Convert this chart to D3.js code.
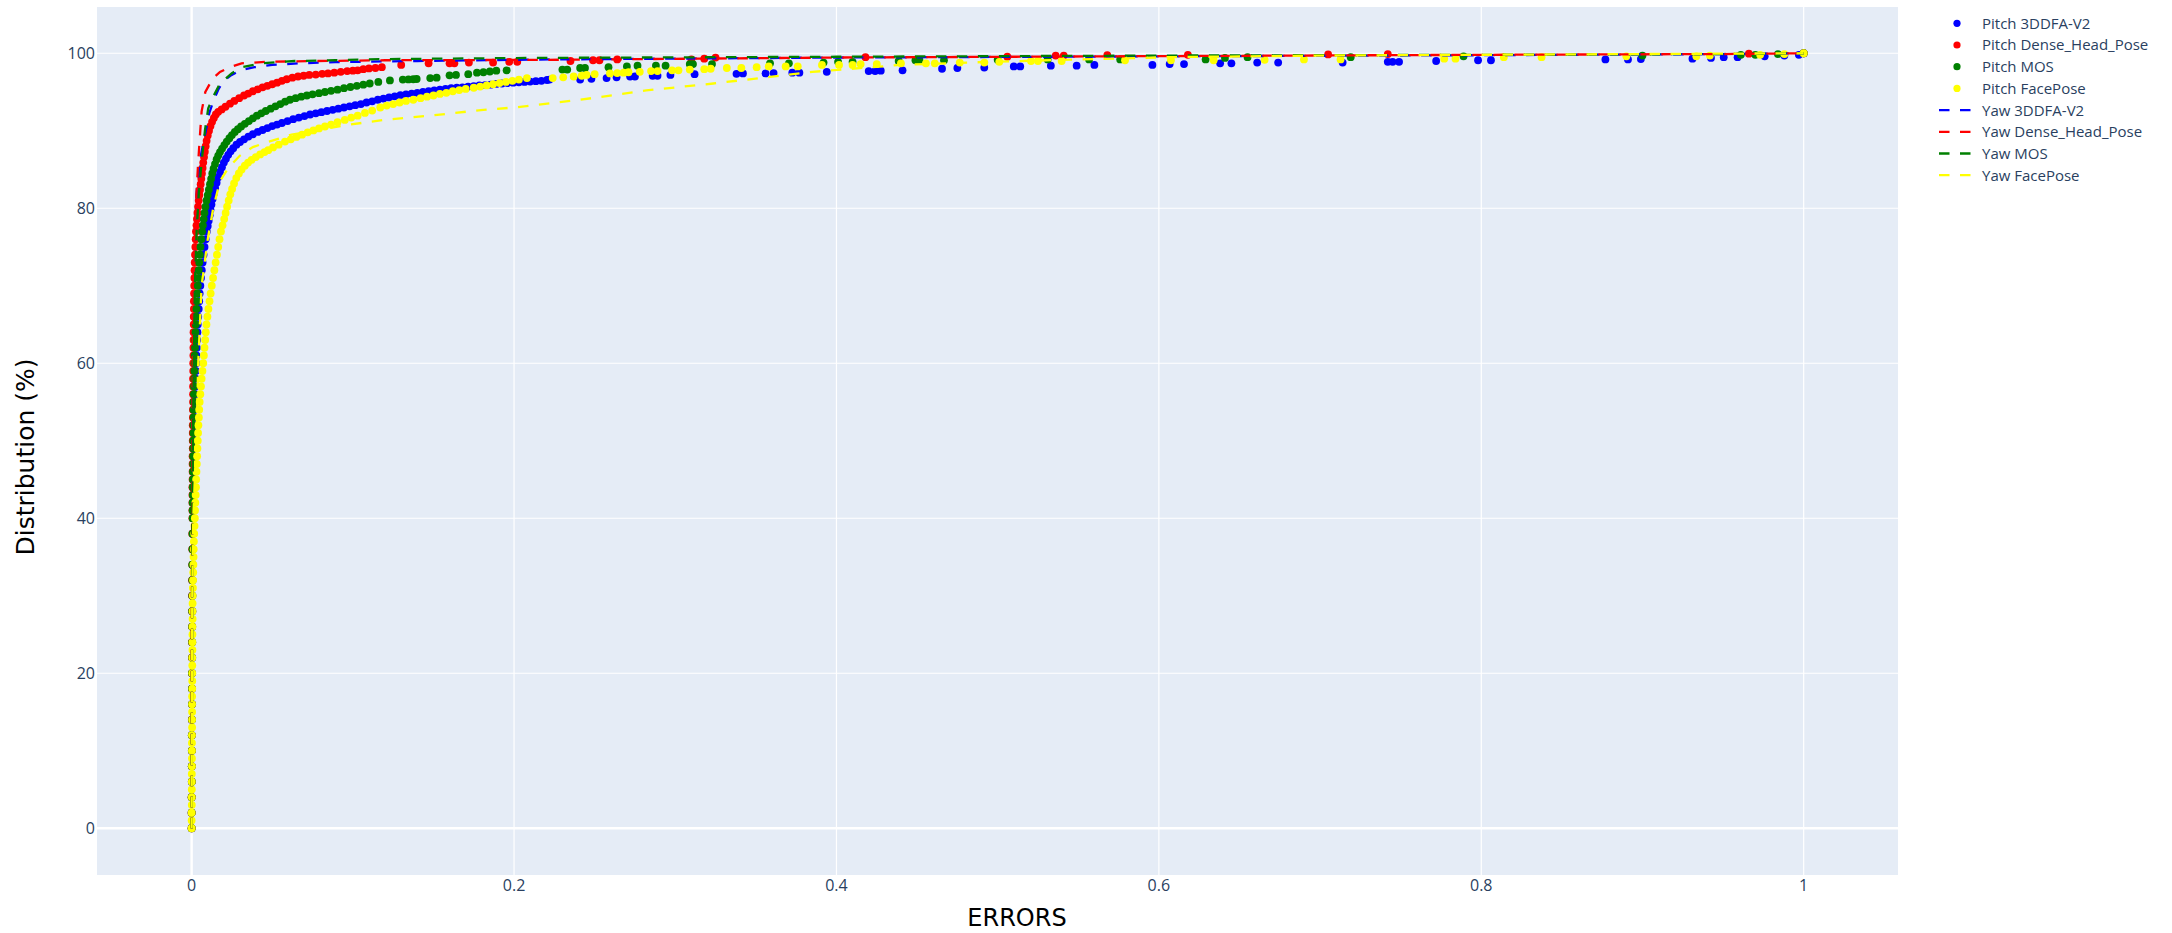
<!DOCTYPE html>
<html><head><meta charset="utf-8">
<script src="https://cdn.jsdelivr.net/npm/d3@7"></script>
<style>html,body{margin:0;padding:0;background:#fff}svg{display:block}</style>
</head><body>
<svg id="chart" width="2172" height="933"></svg>
<script>
// ---------------- DATA ----------------
const xTicks = [0, 0.2, 0.4, 0.6, 0.8, 1];
const xTickLabels = ["0", "0.2", "0.4", "0.6", "0.8", "1"];
const yTicks = [0, 20, 40, 60, 80, 100];
const yTickLabels = ["0", "20", "40", "60", "80", "100"];
const seriesNames = ["Pitch 3DDFA-V2","Pitch Dense_Head_Pose","Pitch MOS","Pitch FacePose","Yaw 3DDFA-V2","Yaw Dense_Head_Pose","Yaw MOS","Yaw FacePose"];

// [error, distribution %]
const pitch3DDFA = [[0,0],[0,2],[0.0001,4],[0.0001,6],[0.0001,8],[0.0002,10],[0.0002,12],[0.0002,14],[0.0003,16],[0.0003,18],[0.0003,20],[0.0004,22],[0.0004,24],[0.0004,26],[0.0005,28],[0.0005,30],[0.0006,32],[0.0006,34],[0.0007,36],[0.0008,38],[0.0009,40],[0.00095,41],[0.001,42],[0.00105,43],[0.0011,44],[0.00115,45],[0.0012,46],[0.00125,47],[0.0013,48],[0.0014,49],[0.0015,50],[0.0016,51],[0.0017,52],[0.0018,53],[0.0019,54],[0.002,55],[0.0022,56],[0.0023,57],[0.0025,58],[0.0026,59],[0.0028,60],[0.003,61],[0.0032,62],[0.0034,63],[0.0036,64],[0.0038,65],[0.0041,66],[0.0044,67],[0.0047,68],[0.005,69],[0.0054,70],[0.0058,71],[0.0063,72],[0.0068,73],[0.0074,74],[0.008,75],[0.0087,76],
[0.0094,77],[0.01,77.7],[0.0106,78.4],[0.0112,79.1],[0.0117,79.8],[0.0123,80.5],[0.013,81.2],[0.0138,81.9],[0.0146,82.6],[0.0155,83.3],[0.0165,84],[0.0176,84.7],[0.0188,85.3],[0.02,85.9],[0.0213,86.4],[0.0227,86.9],[0.0242,87.35],[0.0258,87.75],[0.0278,88.2],[0.03,88.55],[0.0325,88.9],[0.0352,89.25],[0.038,89.55],[0.041,89.85],[0.044,90.1],[0.047,90.35],[0.05,90.6],[0.053,90.8],[0.056,91],[0.0595,91.25],[0.063,91.5],[0.0665,91.7],[0.07,91.9],[0.0735,92.1],[0.077,92.25],[0.0805,92.4],[0.084,92.55],[0.0875,92.7],[0.091,92.85],[0.0945,93],[0.098,93.15],[0.1015,93.3],[0.105,93.45],[0.1085,93.65],[0.112,93.8],[0.1155,94],[0.119,94.15],[0.1225,94.3],[0.126,94.45],[0.1295,94.6],[0.133,94.7],[0.1365,94.8],[0.14,94.9],[0.1435,95],[0.147,95.1],[0.1505,95.2],[0.154,95.3],[0.1575,95.4],[0.161,95.5],[0.1645,95.55],[0.168,95.6],[0.1715,95.7],[0.175,95.75],[0.1785,95.85],[0.182,95.9],[0.1855,95.95],[0.189,96.05],[0.1925,96.1],[0.196,96.15],[0.1995,96.2],[0.203,96.25],[0.2065,96.3],[0.21,96.35],[0.2135,96.4],[0.217,96.45],[0.2205,96.55],[0.222,96.6],
[0.241,96.6],[0.248,96.7],[0.2574,96.8],[0.2636,96.9],[0.272,97],[0.275,97],[0.286,97.1],[0.289,97.1],[0.297,97.2],[0.312,97.3],[0.338,97.35],[0.342,97.4],[0.356,97.4],[0.361,97.45],[0.3726,97.5],[0.377,97.5],[0.394,97.6],[0.42,97.7],[0.424,97.7],[0.4275,97.75],[0.441,97.8],[0.4655,98],[0.475,98.1],[0.4917,98.15],[0.51,98.3],[0.514,98.3],[0.533,98.4],[0.549,98.4],[0.56,98.5],[0.596,98.5],[0.6067,98.6],[0.6156,98.6],[0.638,98.7],[0.645,98.7],[0.661,98.8],[0.674,98.8],[0.714,98.8],[0.742,98.9],[0.745,98.9],[0.749,98.9],[0.772,99],[0.798,99.1],[0.806,99.1],[0.877,99.2],[0.891,99.2],[0.899,99.25],[0.931,99.3],[0.9425,99.4],[0.9504,99.5],[0.959,99.5],[0.9758,99.6],[0.988,99.7],[0.997,99.8],[1,100]];

const pitchDense = [[0,0],[0,2],[0,4],[0.0001,6],[0.0001,8],[0.0001,10],[0.0001,12],[0.0001,14],[0.0002,16],[0.0002,18],[0.0002,20],[0.0002,22],[0.0002,24],[0.0003,26],[0.0003,28],[0.0003,30],[0.0003,32],[0.0004,34],[0.0004,36],[0.0004,38],[0.0005,40],[0.0005,41],[0.0005,42],[0.0005,43],[0.0005,44],[0.0006,45],[0.0006,46],[0.0006,47],[0.0006,48],[0.0007,49],[0.0007,50],[0.0007,51],[0.0007,52],[0.0008,53],[0.0008,54],[0.0009,55],[0.0009,56],[0.0009,57],[0.0009,58],[0.001,59],[0.001,60],[0.0011,61],[0.0011,62],[0.0012,63],[0.0012,64],[0.0013,65],[0.0013,66],[0.0014,67],[0.0014,68],[0.0015,69],[0.0016,70],[0.0017,71],[0.0018,72],[0.0019,73],[0.0021,74],[0.0023,75],[0.0025,76],
[0.0027,77],[0.003,77.8],[0.0033,78.6],[0.0036,79.4],[0.004,80.2],[0.0044,81],[0.0048,81.7],[0.0052,82.4],[0.0056,83.1],[0.006,83.8],[0.0064,84.5],[0.0068,85.2],[0.0072,85.9],[0.0077,86.6],[0.0082,87.3],[0.0087,88],[0.0093,88.7],[0.01,89.4],[0.0108,90],[0.0117,90.6],[0.0127,91.15],[0.0138,91.65],[0.015,92.1],[0.0165,92.45],[0.0186,92.75],[0.021,93.1],[0.0238,93.5],[0.0265,93.85],[0.0295,94.2],[0.0325,94.55],[0.0351,94.8],[0.038,95.1],[0.041,95.35],[0.044,95.6],[0.047,95.8],[0.05,96],[0.053,96.2],[0.056,96.45],[0.059,96.65],[0.0625,96.85],[0.066,97],[0.0695,97.1],[0.073,97.2],[0.077,97.25],[0.081,97.35],[0.0846,97.4],[0.0885,97.5],[0.0925,97.6],[0.0965,97.7],[0.1,97.75],[0.103,97.8],[0.1065,97.95],[0.11,98.05],[0.114,98.1],[0.118,98.2],
[0.13,98.5],[0.147,98.7],[0.16,98.7],[0.163,98.7],[0.172,98.8],[0.187,98.8],[0.197,98.9],[0.202,98.9],[0.235,99],[0.249,99.1],[0.253,99.1],[0.264,99.2],[0.31,99.2],[0.318,99.3],[0.325,99.45],[0.418,99.5],[0.506,99.55],[0.536,99.7],[0.541,99.7],[0.568,99.75],[0.618,99.8],[0.705,99.85],[0.742,99.9],[0.966,99.95],[1,100]];

const pitchMOS = [[0,0],[0,2],[0,4],[0.0001,6],[0.0001,8],[0.0001,10],[0.0001,12],[0.0002,14],[0.0002,16],[0.0002,18],[0.0002,20],[0.0003,22],[0.0003,24],[0.0003,26],[0.0003,28],[0.0004,30],[0.0004,32],[0.0004,34],[0.0005,36],[0.0005,38],[0.0006,40],[0.0006,41],[0.0006,42],[0.0007,43],[0.0007,44],[0.0008,45],[0.0008,46],[0.0009,47],[0.0009,48],[0.001,49],[0.001,50],[0.0011,51],[0.0011,52],[0.0012,53],[0.0012,54],[0.0013,55],[0.0014,56],[0.0015,57],[0.0016,58],[0.0017,59],[0.0018,60],[0.0019,61],[0.0021,62],[0.0022,63],[0.0024,64],[0.0026,65],[0.0028,66],[0.003,67],[0.0033,68],[0.0035,69],[0.0038,70],[0.0041,71],[0.0044,72],[0.0047,73],[0.0051,74],[0.0055,75],[0.006,76],
[0.0065,77],[0.007,77.8],[0.0075,78.6],[0.008,79.4],[0.0086,80.2],[0.0093,81],[0.01,81.7],[0.0107,82.4],[0.0114,83.1],[0.0121,83.8],[0.0128,84.5],[0.0136,85.1],[0.0145,85.7],[0.0155,86.3],[0.0165,86.8],[0.0176,87.25],[0.0189,87.7],[0.0203,88.15],[0.0218,88.6],[0.0234,89.05],[0.025,89.45],[0.0268,89.85],[0.0287,90.2],[0.0307,90.55],[0.033,90.9],[0.0355,91.25],[0.038,91.6],[0.0405,91.95],[0.0432,92.25],[0.046,92.55],[0.049,92.85],[0.052,93.15],[0.055,93.45],[0.058,93.75],[0.061,94],[0.0645,94.2],[0.068,94.4],[0.0715,94.55],[0.075,94.7],[0.079,94.85],[0.0827,95],[0.0865,95.15],[0.0905,95.3],[0.0945,95.5],[0.0985,95.65],[0.1025,95.8],[0.1065,95.95],[0.1105,96.1],[0.1158,96.3],
[0.123,96.5],[0.131,96.6],[0.1345,96.62],[0.1375,96.65],[0.1396,96.68],[0.148,96.8],[0.152,96.85],[0.16,97.15],[0.164,97.2],[0.1716,97.3],[0.177,97.5],[0.181,97.55],[0.185,97.65],[0.189,97.75],[0.1954,97.8],
[0.23,97.9],[0.233,97.9],[0.241,98.1],[0.244,98.1],[0.2586,98.2],[0.27,98.3],[0.2766,98.4],[0.288,98.4],[0.294,98.4],[0.309,98.6],[0.311,98.6],[0.3228,98.6],[0.3588,98.7],[0.3705,98.7],[0.392,98.8],[0.401,98.9],[0.41,98.9],[0.4386,99],[0.449,99.1],[0.4515,99.1],[0.4667,99.1],[0.5,99.15],[0.531,99.2],[0.5567,99.2],[0.576,99.2],[0.629,99.2],[0.641,99.4],[0.655,99.5],[0.719,99.5],[0.789,99.6],[0.9,99.7],[0.961,99.8],[0.97,99.8],[0.984,99.9],[1,100]];

const pitchFacePose = [[0,0],[0,1],[0,2],[0.0001,3],[0.0001,4],[0.0001,5],[0.0001,6],[0.0001,7],[0.0002,8],[0.0002,9],[0.0002,10],[0.0002,11],[0.0002,12],[0.0003,13],[0.0003,14],[0.0003,15],[0.0003,16],[0.0003,17],[0.0004,18],[0.0004,19],[0.0004,20],[0.0004,21],[0.0004,22],[0.0005,23],[0.0005,24],[0.0005,25],[0.0005,26],[0.0006,27],[0.0006,28],[0.0006,29],[0.0007,30],[0.0008,31],[0.0009,32],[0.001,33],[0.0011,34],[0.0012,35],[0.0013,36],[0.0014,37],[0.0016,38],[0.0018,39],[0.002,40],[0.0021,41],[0.0023,42],[0.0025,43],[0.0027,44],[0.0028,45],[0.003,46],[0.0032,47],[0.0034,48],[0.0036,49],[0.0038,50],[0.004,51],[0.0042,52],[0.0045,53],[0.0047,54],[0.005,55],[0.0054,56],[0.0058,57],[0.0062,58],[0.0067,59],[0.0072,60],[0.0076,61],[0.008,62],[0.0084,63],[0.0088,64],[0.0092,65],[0.0098,66],[0.0104,67],[0.0111,68],[0.0118,69],[0.0125,70],[0.0133,71],[0.0141,72],[0.0149,73],[0.0157,74],[0.0165,75],[0.0173,76],
[0.0182,77],[0.0192,77.8],[0.0202,78.6],[0.0211,79.4],[0.022,80.2],[0.023,81],[0.024,81.8],[0.0251,82.5],[0.0263,83.2],[0.0277,83.9],[0.0293,84.5],[0.031,85],[0.033,85.5],[0.035,85.9],[0.0372,86.25],[0.0398,86.6],[0.0425,86.95],[0.0452,87.25],[0.0475,87.5],[0.0505,87.85],[0.054,88.2],[0.0579,88.6],[0.0615,88.9],[0.065,89.2],[0.0685,89.5],[0.072,89.8],[0.0755,90.05],[0.079,90.3],[0.0827,90.55],[0.0865,90.8],[0.0905,91.1],[0.095,91.4],[0.099,91.7],[0.103,91.95],[0.1075,92.3],[0.112,92.6],[0.117,93],[0.121,93.25],[0.125,93.45],[0.129,93.65],[0.133,93.85],[0.1375,94],[0.142,94.2],[0.146,94.4],[0.15,94.55],[0.154,94.75],[0.158,94.9],[0.162,95.1],[0.166,95.25],[0.17,95.4],[0.175,95.55],[0.179,95.7],[0.183,95.85],[0.187,96],[0.191,96.15],[0.195,96.3],[0.199,96.45],[0.203,96.6],[0.208,96.8],
[0.224,96.8],[0.2305,96.9],[0.237,97],[0.242,97.1],[0.245,97.2],[0.25,97.3],[0.2595,97.4],[0.264,97.45],[0.268,97.5],[0.271,97.55],[0.278,97.6],[0.285,97.7],[0.289,97.7],[0.298,97.8],[0.302,97.8],[0.309,97.9],[0.318,97.95],[0.322,98],[0.332,98.1],[0.341,98.1],[0.3505,98.2],[0.358,98.3],[0.3685,98.3],[0.376,98.3],[0.391,98.5],[0.4016,98.5],[0.41,98.5],[0.415,98.6],[0.425,98.6],[0.44,98.7],[0.4555,98.7],[0.461,98.7],[0.4765,98.8],[0.4917,98.8],[0.501,98.9],[0.5207,99],[0.525,99],[0.5397,99],[0.579,99.1],[0.6075,99.1],[0.634,99.1],[0.6656,99.15],[0.69,99.2],[0.7127,99.2],[0.777,99.3],[0.784,99.3],[0.814,99.5],[0.8374,99.5],[0.89,99.6],[0.9334,99.6],[0.9418,99.7],[0.973,99.8],[0.988,99.9],[1,100]];

const yaw3DDFA = [[0,0],[0.0001,10],[0.0002,20],[0.0003,30],[0.0005,40],[0.0007,50],[0.001,60],[0.0015,70],[0.0025,77],[0.0031,82],[0.005,86],[0.0072,88.4],[0.0089,90.1],[0.011,92.3],[0.0134,93.8],[0.0165,95.3],[0.0196,96.4],[0.024,97.1],[0.03,97.8],[0.039,98.2],[0.05,98.5],[0.067,98.7],[0.089,98.85],[0.12,98.95],[0.14,99],[0.222,99.2],[0.4,99.45],[0.6,99.6],[0.8,99.75],[0.95,99.9],[1,100]];
const yawDense = [[0,0],[0.0001,10],[0.0001,20],[0.0002,30],[0.0003,40],[0.0005,50],[0.0007,60],[0.0012,70],[0.0022,77],[0.003,82],[0.0041,86],[0.0052,89.5],[0.0062,92.5],[0.0085,95],[0.0114,96.1],[0.0145,97],[0.0176,97.6],[0.0238,98.2],[0.031,98.7],[0.047,98.9],[0.078,99],[0.12,99.1],[0.22,99.15],[0.4,99.45],[0.62,99.65],[0.8,99.8],[0.95,99.9],[1,100]];
const yawMOS = [[0,0],[0.0001,10],[0.0002,20],[0.0003,30],[0.0005,40],[0.0008,50],[0.0013,60],[0.002,70],[0.0031,77],[0.0045,82],[0.0062,86],[0.0083,90.1],[0.0103,92.9],[0.0134,94.4],[0.0176,96.1],[0.0248,97.4],[0.031,98.2],[0.043,98.7],[0.064,99],[0.089,99.1],[0.12,99.25],[0.212,99.4],[0.4,99.55],[0.6,99.7],[0.8,99.8],[0.95,99.9],[1,100]];
const yawFacePose = [[0,0],[0.0001,10],[0.0002,20],[0.0004,30],[0.001,40],[0.003,50],[0.0041,60],[0.0062,70],[0.01,76],[0.0134,80],[0.0176,83.5],[0.0227,85.2],[0.03,86.8],[0.038,87.9],[0.0465,88.5],[0.062,89.5],[0.0815,90.2],[0.095,90.7],[0.119,91.4],[0.15,92],[0.181,92.7],[0.2,93],[0.241,94],[0.282,95.2],[0.3236,96.1],[0.365,97.1],[0.385,97.6],[0.44,98.5],[0.496,98.9],[0.551,99.2],[0.607,99.5],[0.7,99.7],[0.85,99.85],[1,100]];

// ---------------- STYLE ----------------
const palette = ["#0000ff", "#ff0000", "#008000", "#ffff00"];
const pitchData = [pitch3DDFA, pitchDense, pitchMOS, pitchFacePose];
const yawData = [yaw3DDFA, yawDense, yawMOS, yawFacePose];

const plot = {l: 97, r: 1898, t: 7, b: 875};
const svg = d3.select("#chart");
const x = d3.scaleLinear().domain([-0.0587, 1.0585]).range([plot.l, plot.r]);
const y = d3.scaleLinear().domain([-6.03, 105.97]).range([plot.b, plot.t]);

svg.append("rect").attr("x", plot.l).attr("y", plot.t)
  .attr("width", plot.r - plot.l).attr("height", plot.b - plot.t).attr("fill", "#E5ECF6");

// grid
const g = svg.append("g");
xTicks.forEach(v => {
  g.append("line").attr("x1", x(v)).attr("x2", x(v)).attr("y1", plot.t).attr("y2", plot.b)
    .attr("stroke", "#fff").attr("stroke-width", v === 0 ? 2.4 : 1.2);
});
yTicks.forEach(v => {
  g.append("line").attr("y1", y(v)).attr("y2", y(v)).attr("x1", plot.l).attr("x2", plot.r)
    .attr("stroke", "#fff").attr("stroke-width", v === 0 ? 2.4 : 1.2);
});

svg.append("clipPath").attr("id", "clip").append("rect")
  .attr("x", plot.l).attr("y", plot.t).attr("width", plot.r - plot.l).attr("height", plot.b - plot.t);
const area = svg.append("g").attr("clip-path", "url(#clip)");

// pitch markers
pitchData.forEach((data, i) => {
  area.append("g").selectAll("circle").data(data).join("circle")
    .attr("cx", d => x(d[0])).attr("cy", d => y(d[1])).attr("r", 3.9)
    .attr("fill", palette[i]);
});

// yaw dashed lines
const line = d3.line().x(d => x(d[0])).y(d => y(d[1]));
yawData.forEach((data, i) => {
  area.append("path").datum(data).attr("d", line)
    .attr("fill", "none").attr("stroke", palette[i]).attr("stroke-width", 2.3)
    .attr("stroke-dasharray", "10.5,10.5");
});

// tick labels
const tickFont = "'Open Sans', sans-serif";
xTicks.forEach((v, i) => {
  svg.append("text").attr("x", x(v)).attr("y", 891).attr("text-anchor", "middle")
    .attr("font-family", tickFont).attr("font-size", 16).attr("fill", "#2a3f5f").text(xTickLabels[i]);
});
yTicks.forEach((v, i) => {
  svg.append("text").attr("x", 95).attr("y", y(v)).attr("dy", "0.36em").attr("text-anchor", "end")
    .attr("font-family", tickFont).attr("font-size", 16).attr("fill", "#2a3f5f").text(yTickLabels[i]);
});

// axis titles
svg.append("text").attr("x", 1017).attr("y", 926).attr("text-anchor", "middle")
  .attr("font-family", "'DejaVu Sans', sans-serif").attr("font-size", 24).attr("fill", "#000").text("ERRORS");
svg.append("text").attr("transform", "translate(33.5,457) rotate(-90)").attr("text-anchor", "middle")
  .attr("font-family", "'DejaVu Sans', sans-serif").attr("font-size", 25).attr("fill", "#000").text("Distribution (%)");

// legend
const leg = svg.append("g");
seriesNames.forEach((name, i) => {
  const ly = 23.3 + i * 21.7;
  if (i < 4) {
    leg.append("circle").attr("cx", 1957).attr("cy", ly).attr("r", 3.6).attr("fill", palette[i]);
  } else {
    leg.append("line").attr("x1", 1939).attr("x2", 1972).attr("y1", ly).attr("y2", ly)
      .attr("stroke", palette[i - 4]).attr("stroke-width", 2.3).attr("stroke-dasharray", "10.5,10.5");
  }
  leg.append("text").attr("x", 1982).attr("y", ly).attr("dy", "0.36em")
    .attr("font-family", tickFont).attr("font-size", 15).attr("fill", "#2a3f5f").text(name);
});
</script>
</body></html>
